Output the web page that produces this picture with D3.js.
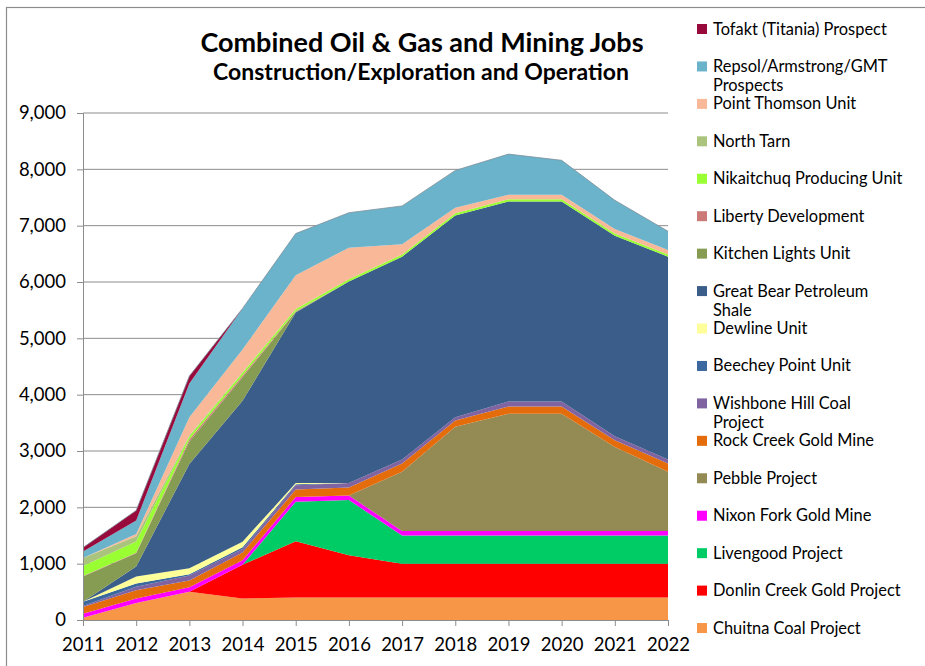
<!DOCTYPE html>
<html>
<head>
<meta charset="utf-8">
<script src="https://cdn.jsdelivr.net/npm/d3@7"></script>
<style>
  body { margin: 0; background: #fff; }
  svg { display: block; font-family: Lato, "Open Sans", sans-serif; }
</style>
</head>
<body>
<svg id="chart" width="925" height="666"></svg>
<script>
// years on the x axis
var years = [2011, 2012, 2013, 2014, 2015, 2016, 2017, 2018, 2019, 2020, 2021, 2022];
var yTicks = [0, 1000, 2000, 3000, 4000, 5000, 6000, 7000, 8000, 9000];

// jobs per project (bottom of the stack first)
var chuitna      = [40, 300, 500, 380, 400, 400, 400, 400, 400, 400, 400, 400];
var donlin       = [0, 0, 0, 600, 1000, 750, 600, 600, 600, 600, 600, 600];
var livengood    = [0, 0, 0, 0, 700, 980, 500, 500, 500, 500, 500, 500];
var nixonFork    = [70, 80, 80, 80, 85, 80, 80, 80, 80, 80, 80, 80];
var pebble       = [0, 0, 0, 0, 0, 0, 1050, 1850, 2080, 2080, 1490, 1050];
var rockCreek    = [120, 150, 120, 140, 130, 140, 150, 110, 130, 130, 120, 150];
var wishbone     = [20, 60, 90, 60, 75, 80, 70, 60, 90, 90, 70, 70];
var beechey      = [75, 60, 20, 30, 20, 0, 0, 0, 0, 0, 0, 0];
var dewline      = [0, 120, 110, 100, 20, 0, 0, 0, 0, 0, 0, 0];
var greatBear    = [0, 180, 1850, 2500, 3030, 3580, 3600, 3580, 3550, 3550, 3560, 3600];
var kitchen      = [445, 235, 400, 420, 10, 0, 0, 0, 0, 0, 0, 0];
var liberty      = [10, 10, 40, 30, 10, 0, 0, 0, 0, 0, 0, 0];
var nikaitchuq   = [180, 200, 50, 50, 40, 40, 40, 40, 40, 40, 40, 40];
var northTarn    = [140, 90, 20, 10, 0, 0, 0, 0, 0, 0, 0, 0];
var pointThomson = [0, 40, 320, 400, 600, 560, 180, 100, 80, 80, 80, 80];
var repsol       = [115, 240, 600, 730, 740, 620, 680, 660, 720, 610, 510, 330];
var tofakt       = [70, 180, 130, 0, 0, 0, 0, 0, 0, 0, 0, 0];

var series = [
    { key: 'Chuitna Coal Project', values: chuitna, color: '#f79646' },
    { key: 'Donlin Creek Gold Project', values: donlin, color: '#ff0000' },
    { key: 'Livengood Project', values: livengood, color: '#00cc66' },
    { key: 'Nixon Fork Gold Mine', values: nixonFork, color: '#ff00ff' },
    { key: 'Pebble Project', values: pebble, color: '#948a54' },
    { key: 'Rock Creek Gold Mine', values: rockCreek, color: '#e46c0a' },
    { key: 'Wishbone Hill Coal Project', values: wishbone, color: '#8064a2' },
    { key: 'Beechey Point Unit', values: beechey, color: '#3c68a0' },
    { key: 'Dewline Unit', values: dewline, color: '#ffff99' },
    { key: 'Great Bear Petroleum Shale', values: greatBear, color: '#3a5d8a' },
    { key: 'Kitchen Lights Unit', values: kitchen, color: '#869c52' },
    { key: 'Liberty Development', values: liberty, color: '#cc7a78' },
    { key: 'Nikaitchuq Producing Unit', values: nikaitchuq, color: '#99ff33' },
    { key: 'North Tarn', values: northTarn, color: '#aac47e' },
    { key: 'Point Thomson Unit', values: pointThomson, color: '#f9b897' },
    { key: 'Repsol/Armstrong/GMT Prospects', values: repsol, color: '#6bb3ca' },
    { key: 'Tofakt (Titania) Prospect', values: tofakt, color: '#990a3c' }
];

// legend labels that wrap onto two lines
var legendLines = {
    'Repsol/Armstrong/GMT Prospects': ['Repsol/Armstrong/GMT', 'Prospects'],
    'Great Bear Petroleum Shale': ['Great Bear Petroleum', 'Shale'],
    'Wishbone Hill Coal Project': ['Wishbone Hill Coal', 'Project']
};

var svg = d3.select('#chart');

// outer chart border
svg.append('rect')
    .attr('x', 6.5).attr('y', 7.5)
    .attr('width', 940).attr('height', 700)
    .attr('fill', 'none')
    .attr('stroke', '#8c8c8c')
    .attr('stroke-width', 1.2);

var x = d3.scaleLinear().domain([2011, 2022]).range([83, 668]);
var y = d3.scaleLinear().domain([0, 9000]).range([620, 113]);

// table for the stack
var table = years.map((yr, i) => {
    var row = { year: yr };
    series.forEach(s => { row[s.key] = s.values[i]; });
    return row;
});

var stack = d3.stack().keys(series.map(s => s.key));
var layers = stack(table);

// gridlines
svg.append('g')
    .selectAll('line')
    .data(yTicks.filter(d => d > 0))
    .enter()
    .append('line')
    .attr('x1', x(2011)).attr('x2', x(2022))
    .attr('y1', d => y(d)).attr('y2', d => y(d))
    .attr('stroke', '#8c8c8c')
    .attr('stroke-width', 1);

var area = d3.area()
    .x(d => x(d.data.year))
    .y0(d => y(d[0]))
    .y1(d => y(d[1]));

svg.append('g')
    .selectAll('path')
    .data(layers)
    .enter()
    .append('path')
    .attr('d', area)
    .attr('fill', (d, i) => series[i].color);

// top outline of the whole stack
svg.append('path')
    .datum(layers[layers.length - 1])
    .attr('d', d3.line().x(d => x(d.data.year)).y(d => y(d[1])))
    .attr('fill', 'none')
    .attr('stroke', '#7f8f9a')
    .attr('stroke-width', 0.8);

// y axis
var yAxis = svg.append('g')
    .attr('transform', 'translate(' + x(2011) + ',0)')
    .call(d3.axisLeft(y).tickValues(yTicks).tickSize(6).tickPadding(11).tickFormat(d3.format(',')));

// x axis
var xAxis = svg.append('g')
    .attr('transform', 'translate(0,' + y(0) + ')')
    .call(d3.axisBottom(x).tickValues(years).tickSize(6).tickPadding(12).tickFormat(d3.format('d')));

[yAxis, xAxis].forEach(ax => {
    ax.selectAll('path, line').attr('stroke', '#8c8c8c');
    ax.select('.domain').attr('stroke', '#8c8c8c');
    ax.selectAll('text')
        .attr('fill', '#000')
        .style('font-family', 'Lato, sans-serif')
        .style('font-size', '18.5px');
});

// titles
svg.append('text')
    .attr('x', 422).attr('y', 52)
    .attr('text-anchor', 'middle')
    .style('font-weight', 'bold')
    .style('font-size', '27px')
    .text('Combined Oil & Gas and Mining Jobs');

svg.append('text')
    .attr('x', 421).attr('y', 80)
    .attr('text-anchor', 'middle')
    .style('font-weight', 'bold')
    .style('font-size', '23px')
    .text('Construction/Exploration and Operation');

// legend, top entry is the top of the stack
var legendData = series.slice().reverse();
var legend = svg.append('g')
    .selectAll('g')
    .data(legendData)
    .enter()
    .append('g')
    .attr('transform', (d, i) => 'translate(697,' + (29 + i * 37.44) + ')');

legend.append('rect')
    .attr('x', 0).attr('y', -5)
    .attr('width', 10).attr('height', 10)
    .attr('fill', d => d.color);

legend.append('text')
    .attr('x', 16)
    .attr('y', 5.5)
    .style('font-size', '16.4px')
    .each(function (d) {
        var lines = legendLines[d.key] || [d.key];
        d3.select(this).selectAll('tspan')
            .data(lines)
            .enter()
            .append('tspan')
            .attr('x', 16)
            .attr('dy', (l, j) => j === 0 ? 0 : 19)
            .text(l => l);
    });
</script>
</body>
</html>
